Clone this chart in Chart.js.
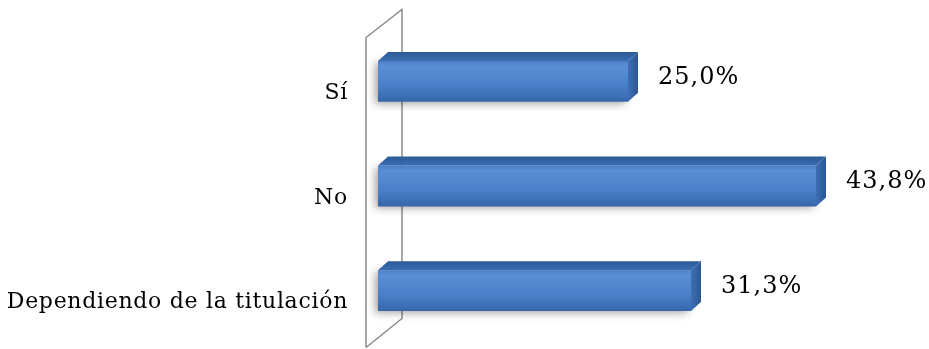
<!DOCTYPE html>
<html>
<head>
<meta charset="utf-8">
<script src="https://cdn.jsdelivr.net/npm/chart.js@4.4.0/dist/chart.umd.min.js"></script>
<style>
    html, body { margin: 0; padding: 0; background: #fff; }
    #wrap { width: 929px; height: 349px; position: relative; }
</style>
</head>
<body>
<div id="wrap"><canvas id="chart"></canvas></div>
<script>
const categories = ['Sí', 'No', 'Dependiendo de la titulación'];
const values = [25.0, 43.8, 31.3];

const formatPercent = (value) => value.toFixed(1).replace('.', ',') + '%';

// depth of the fake 3D extrusion
const DEPTH_X = 10;
const DEPTH_Y = 9;
const BAR_PCT = 0.39;

function frontGradient(ctx, top, bottom) {
    const g = ctx.createLinearGradient(0, top, 0, bottom);
    g.addColorStop(0, '#4a7fc6');
    g.addColorStop(0.12, '#5a8fd6');
    g.addColorStop(0.6, '#4a80c8');
    g.addColorStop(1, '#3566aa');
    return g;
}

// Wall behind the category axis + a bit of letter spacing for the serif labels
const wallPlugin = {
    id: 'wall',
    beforeDraw(chart) {
        chart.ctx.letterSpacing = '0.7px';
    },
    beforeDatasetsDraw(chart) {
        const { ctx, chartArea } = chart;
        const fx = chartArea.left - 12;
        const bx = chartArea.left + 24;
        ctx.save();
        ctx.strokeStyle = '#8a8a8a';
        ctx.lineWidth = 1.5;
        ctx.beginPath();
        ctx.moveTo(fx, chartArea.bottom + 4.5);
        ctx.lineTo(fx, chartArea.top + 8.5);
        ctx.lineTo(bx, chartArea.top - 19.5);
        ctx.lineTo(bx, chartArea.bottom - 24.5);
        ctx.lineTo(fx, chartArea.bottom + 4.5);
        ctx.stroke();
        ctx.restore();
    },
    beforeDatasetDraw(chart) {
        const ctx = chart.ctx;
        ctx.save();
        ctx.shadowColor = 'rgba(0, 0, 0, 0.35)';
        ctx.shadowBlur = 8;
        ctx.shadowOffsetX = -3;
        ctx.shadowOffsetY = 2;
    },
    afterDatasetDraw(chart) {
        chart.ctx.restore();
    }
};

// Top and side faces plus value labels
const depthPlugin = {
    id: 'depth',
    afterDatasetsDraw(chart) {
        const ctx = chart.ctx;
        const meta = chart.getDatasetMeta(0);
        meta.data.forEach((bar, i) => {
            const p = bar.getProps(['x', 'y', 'base', 'height'], true);
            const top = p.y - p.height / 2;
            const bottom = p.y + p.height / 2;

            ctx.save();
            // top face
            const tg = ctx.createLinearGradient(0, top - DEPTH_Y, 0, top);
            tg.addColorStop(0, '#2c5a96');
            tg.addColorStop(1, '#3a6db3');
            ctx.fillStyle = tg;
            ctx.beginPath();
            ctx.moveTo(p.base, top);
            ctx.lineTo(p.x, top);
            ctx.lineTo(p.x + DEPTH_X, top - DEPTH_Y);
            ctx.lineTo(p.base + DEPTH_X, top - DEPTH_Y);
            ctx.closePath();
            ctx.fill();

            // side face
            const sg = ctx.createLinearGradient(p.x, 0, p.x + DEPTH_X, 0);
            sg.addColorStop(0, '#3d6fb5');
            sg.addColorStop(1, '#2b5792');
            ctx.fillStyle = sg;
            ctx.beginPath();
            ctx.moveTo(p.x, top);
            ctx.lineTo(p.x + DEPTH_X, top - DEPTH_Y);
            ctx.lineTo(p.x + DEPTH_X, bottom - DEPTH_Y);
            ctx.lineTo(p.x, bottom);
            ctx.closePath();
            ctx.fill();

            // value label
            ctx.letterSpacing = '1px';
            ctx.fillStyle = '#000';
            ctx.font = '24px "DejaVu Serif"';
            ctx.textAlign = 'left';
            ctx.textBaseline = 'middle';
            ctx.fillText(formatPercent(values[i]), p.x + 30, p.y - 4);
            ctx.restore();
        });
    }
};

const ctx = document.getElementById('chart').getContext('2d');
const chart = new Chart(ctx, {
    type: 'bar',
    data: {
        labels: categories,
        datasets: [{
            data: values,
            clip: false,
            borderWidth: 0,
            categoryPercentage: 1,
            barPercentage: BAR_PCT,
            backgroundColor: (c) => {
                const area = c.chart.chartArea;
                if (!area) return '#4a7fc7';
                const y = c.chart.scales.y.getPixelForValue(c.dataIndex);
                const half = (area.bottom - area.top) / categories.length * BAR_PCT / 2;
                return frontGradient(c.chart.ctx, y - half, y + half);
            }
        }]
    },
    options: {
        indexAxis: 'y',
        responsive: true,
        maintainAspectRatio: false,
        animation: false,
        layout: { padding: { top: 29, bottom: 6, right: 51, left: 0 } },
        scales: {
            x: { display: false, min: 0, max: 50 },
            y: {
                grid: { display: false },
                border: { display: false },
                ticks: {
                    color: '#000',
                    padding: 22,
                    labelOffset: 12,
                    font: { family: 'DejaVu Serif', size: 22 }
                },
                afterFit: (scale) => {
                    scale.width = 378;
                    scale.paddingTop = 0;
                    scale.paddingBottom = 0;
                }
            }
        },
        plugins: {
            legend: { display: false },
            tooltip: { enabled: false }
        }
    },
    plugins: [wallPlugin, depthPlugin]
});
</script>
</body>
</html>
